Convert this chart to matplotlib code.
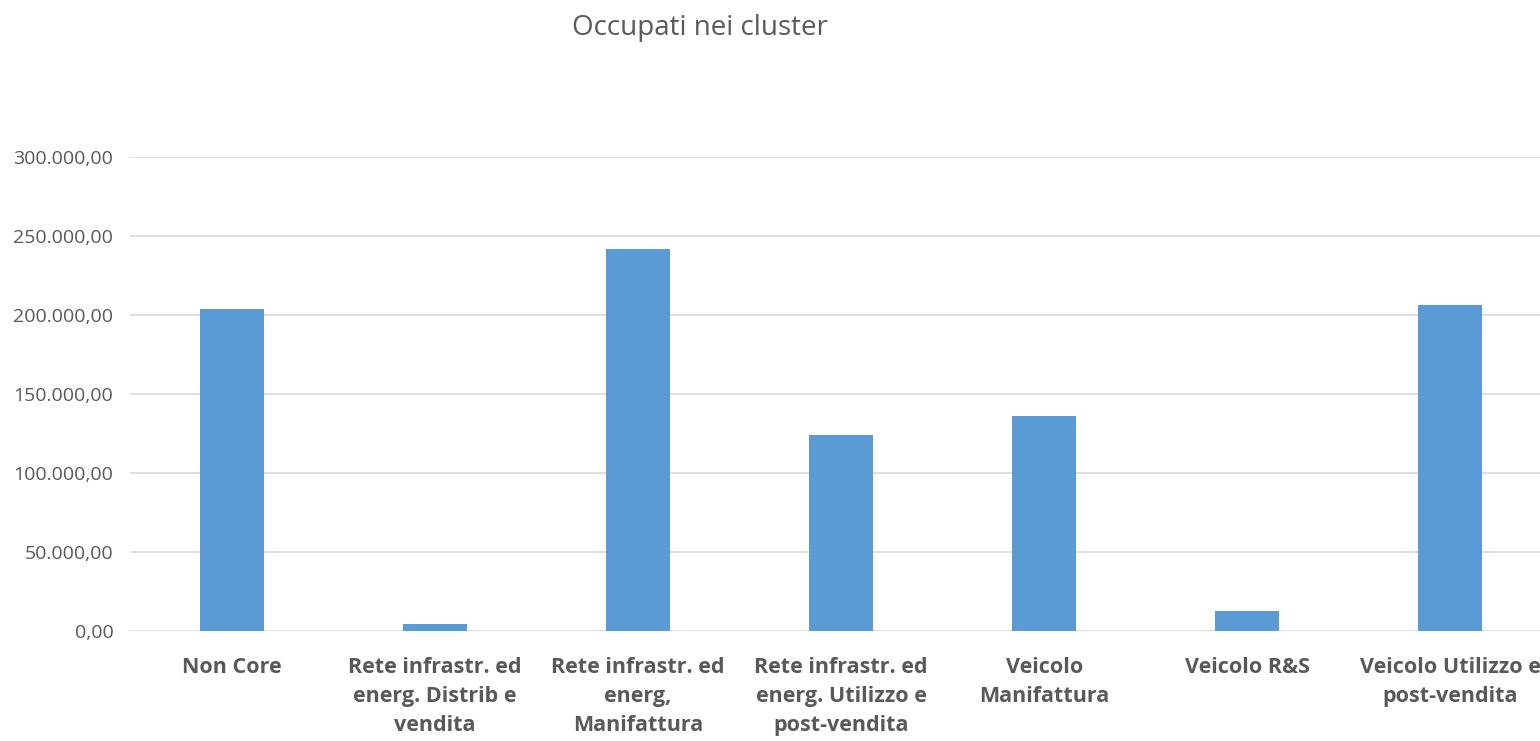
import matplotlib.pyplot as plt
from matplotlib.ticker import FuncFormatter

categories = [
    "Non Core",
    "Rete infrastr. ed\nenerg. Distrib e\nvendita",
    "Rete infrastr. ed\nenerg,\nManifattura",
    "Rete infrastr. ed\nenerg. Utilizzo e\npost-vendita",
    "Veicolo\nManifattura",
    "Veicolo R&S",
    "Veicolo Utilizzo e\npost-vendita",
]
occupati = [203800, 4400, 241800, 124000, 136000, 12700, 206300]
y_ticks = [0, 50000, 100000, 150000, 200000, 250000, 300000]

plt.rcParams['font.family'] = ['Open Sans', 'DejaVu Sans']
text_col = '#595959'

fig = plt.figure(figsize=(15.4, 7.41), dpi=100)
# l'asse continua oltre il bordo destro come nell'originale
ax = fig.add_axes([130 / 1540, 110 / 741, 1422 / 1540, 474 / 741])

x = range(len(categories))
ax.bar(x, occupati, width=0.315, color='#5B9BD5', zorder=3)

ax.set_xlim(-0.5, len(categories) - 0.5)
ax.set_ylim(0, 300000)
ax.set_yticks(y_ticks)


def fmt_it(v, pos):
    s = f"{v:,.2f}"
    return s.replace(",", "X").replace(".", ",").replace("X", ".")


ax.yaxis.set_major_formatter(FuncFormatter(fmt_it))
ax.grid(axis='y', color='#D9D9D9', linewidth=1.2, zorder=0)
for s in ax.spines.values():
    s.set_visible(False)
ax.tick_params(axis='both', length=0, colors=text_col)
ax.tick_params(axis='y', labelsize=14, pad=12)
ax.set_xticks(list(x))
ax.set_xticklabels(categories, fontsize=15.5, fontweight='bold',
                   color=text_col, linespacing=1.48)
ax.tick_params(axis='x', pad=19)

fig.text(700 / 1540, 1 - 28 / 741, "Occupati nei cluster", fontsize=20,
         color=text_col, ha='center', va='center')

fig.savefig("out.png", dpi=100)
